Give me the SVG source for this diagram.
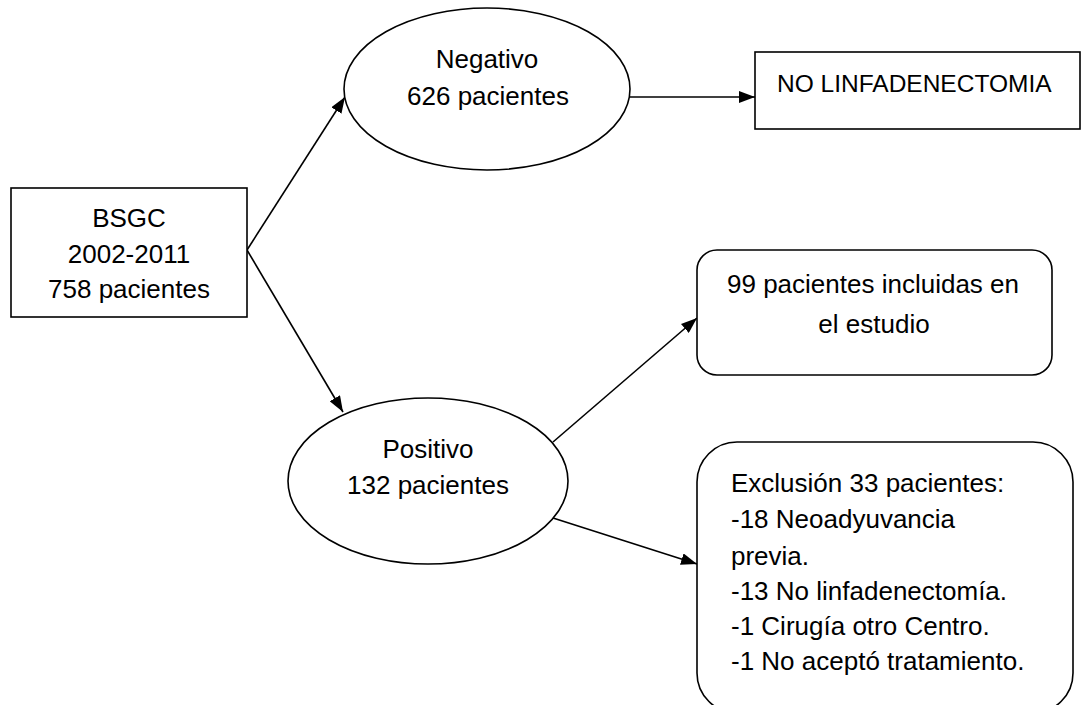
<svg xmlns="http://www.w3.org/2000/svg" width="1081" height="705" viewBox="0 0 1081 705">
<style>
.shape{fill:#fff;stroke:#000;stroke-width:1.6}
.t{font-family:"Liberation Sans",Arial,sans-serif;font-size:26px;fill:#000}
.c{text-anchor:middle}
.conn{stroke:#000;stroke-width:1.6;fill:none;marker-end:url(#ah)}
</style>
<defs>
<marker id="ah" markerUnits="userSpaceOnUse" markerWidth="16" markerHeight="12" viewBox="0 0 16 12" refX="16" refY="6" orient="auto">
<path d="M0,0 L16,6 L0,12 Z" fill="#000"/>
</marker>
</defs>
<rect width="1081" height="705" fill="#fff"/>
<g id="connectors">
<line class="conn" x1="247" y1="250" x2="345" y2="97"/>
<line class="conn" x1="247" y1="250" x2="343" y2="412"/>
<line class="conn" x1="630" y1="97" x2="755" y2="97"/>
<line class="conn" x1="553" y1="442" x2="697" y2="318"/>
<line class="conn" x1="553" y1="518" x2="697" y2="564"/>
</g>
<g id="bsgc">
<rect class="shape" x="11" y="188" width="236" height="129"/>
<text class="t c" x="129" y="227">BSGC</text>
<text class="t c" x="129" y="263">2002-2011</text>
<text class="t c" x="129" y="298">758 pacientes</text>
</g>
<g id="negativo">
<ellipse class="shape" cx="487" cy="89" rx="143" ry="81"/>
<text class="t c" x="487" y="68">Negativo</text>
<text class="t c" x="488" y="105">626 pacientes</text>
</g>
<g id="no-linfadenectomia">
<rect class="shape" x="755" y="52" width="325" height="77"/>
<text class="t" x="777" y="92" style="font-size:24.5px">NO LINFADENECTOMIA</text>
</g>
<g id="positivo">
<ellipse class="shape" cx="428" cy="481" rx="140" ry="83"/>
<text class="t c" x="428" y="458">Positivo</text>
<text class="t c" x="428" y="494">132 pacientes</text>
</g>
<g id="incluidas">
<rect class="shape" x="697" y="250" width="355" height="125" rx="20" ry="20"/>
<text class="t c" x="873" y="293">99 pacientes incluidas en</text>
<text class="t c" x="874" y="333">el estudio</text>
</g>
<g id="exclusion">
<rect class="shape" x="697" y="442" width="376" height="271" rx="40" ry="40"/>
<text class="t" x="731" y="492">Exclusión 33 pacientes:</text>
<text class="t" x="731" y="528">-18 Neoadyuvancia</text>
<text class="t" x="731" y="565">previa.</text>
<text class="t" x="731" y="600">-13 No linfadenectomía.</text>
<text class="t" x="731" y="635">-1 Cirugía otro Centro.</text>
<text class="t" x="731" y="670">-1 No aceptó tratamiento.</text>
</g>
</svg>
